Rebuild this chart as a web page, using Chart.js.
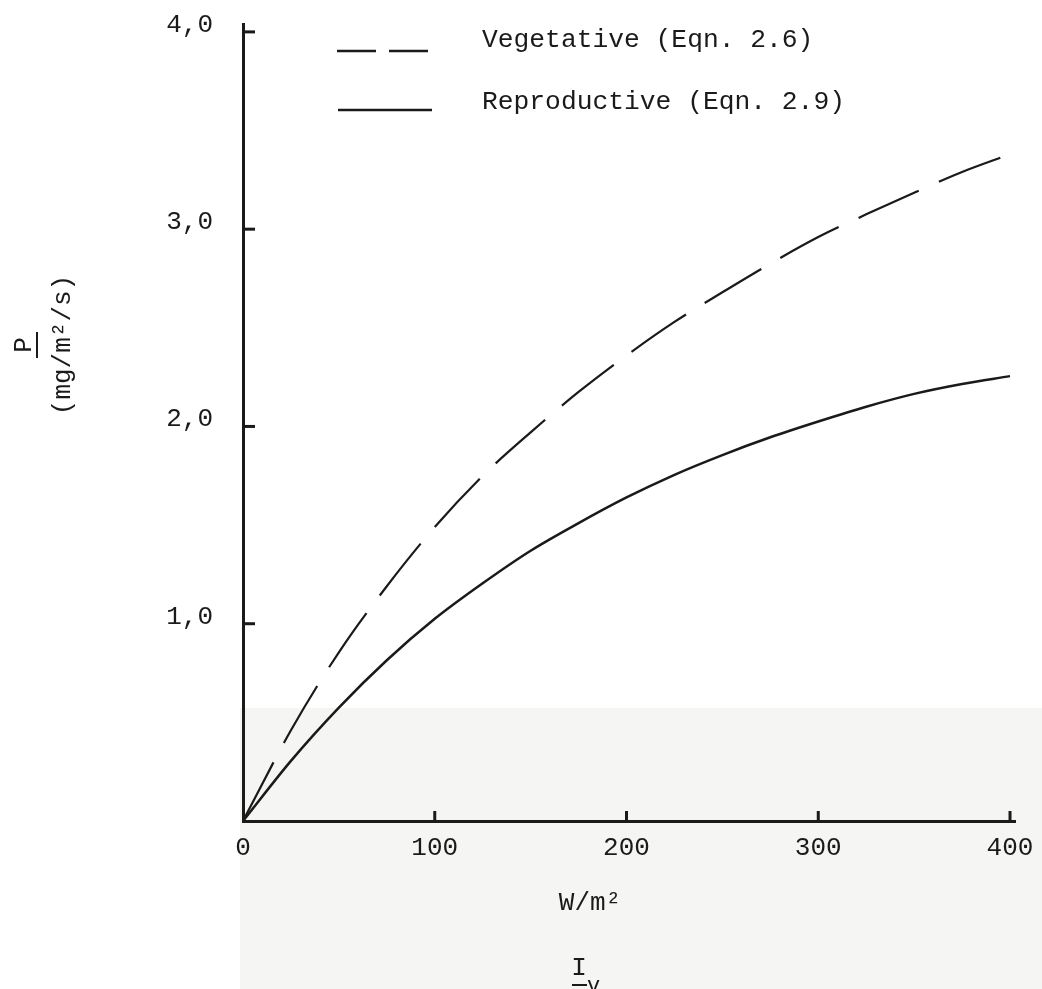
<!DOCTYPE html>
<html lang="en">
  <head>
    <meta charset="UTF-8" />
    <title>P vs I_v</title>
    <script src="https://cdn.jsdelivr.net/npm/chart.js"></script>
    <style>
      html, body {
        margin: 0;
        padding: 0;
        background-color: #fff;
      }
      #wrap {
        width: 1042px;
        height: 989px;
      }
    </style>
  </head>
  <body>
    <div id="wrap">
      <canvas id="pChart" width="1042" height="989"></canvas>
    </div>

    <script>
      // irradiance (W/m2) and photosynthesis rate (mg/m2/s)
      const irradiance = [0, 25, 50, 75, 100, 125, 150, 175, 200, 225, 250, 275, 300, 325, 350, 375, 400];
      const vegetative = [0, 0.46, 0.855, 1.19, 1.49, 1.75, 1.97, 2.175, 2.36, 2.53, 2.68, 2.825, 2.96, 3.075, 3.185, 3.29, 3.38];
      const reproductive = [0, 0.305, 0.575, 0.815, 1.025, 1.205, 1.37, 1.51, 1.64, 1.755, 1.855, 1.945, 2.025, 2.1, 2.165, 2.215, 2.255];

      const seriesNames = ["Vegetative (Eqn. 2.6)", "Reproductive (Eqn. 2.9)"];
      const xTicks = [0, 100, 200, 300, 400];
      const yTicks = [0, 1, 2, 3, 4];

      const FONT = "'Liberation Mono', 'DejaVu Sans Mono', monospace";
      const INK = "#1a1a1a";

      function toPoints(ys) {
        return irradiance.map((x, i) => ({ x: x, y: ys[i] }));
      }

      // paper tone at the lower part of the sheet
      const paperPlugin = {
        id: "paper",
        beforeDraw(chart) {
          const ctx = chart.ctx;
          ctx.save();
          ctx.fillStyle = "#f5f5f3";
          ctx.fillRect(240, 708, chart.width - 240, chart.height - 708);
          ctx.restore();
        },
      };

      // inward tick marks, titles and the line key
      const decorPlugin = {
        id: "decor",
        afterDraw(chart) {
          const ctx = chart.ctx;
          const xs = chart.scales.x;
          const ys = chart.scales.y;
          const area = chart.chartArea;

          ctx.save();
          ctx.strokeStyle = INK;
          ctx.lineWidth = 3;
          yTicks.filter((v) => v > 0).forEach((v) => {
            const py = ys.getPixelForValue(v);
            ctx.beginPath();
            ctx.moveTo(area.left, py);
            ctx.lineTo(area.left + 12, py);
            ctx.stroke();
          });
          xTicks.filter((v) => v > 0).forEach((v) => {
            const px = xs.getPixelForValue(v);
            ctx.beginPath();
            ctx.moveTo(px, area.bottom);
            ctx.lineTo(px, area.bottom - 10);
            ctx.stroke();
          });

          // key
          const ds = chart.data.datasets;
          ctx.lineWidth = 2.5;
          ctx.setLineDash([39, 13]);
          ctx.beginPath();
          ctx.moveTo(337, 51);
          ctx.lineTo(430, 51);
          ctx.stroke();
          ctx.setLineDash([]);
          ctx.beginPath();
          ctx.moveTo(338, 110);
          ctx.lineTo(432, 110);
          ctx.stroke();

          ctx.fillStyle = INK;
          ctx.font = "26.3px " + FONT;
          ctx.textAlign = "left";
          ctx.textBaseline = "middle";
          ctx.fillText(ds[0].label, 482, 40);
          ctx.fillText(ds[1].label, 482, 102);

          // x title
          ctx.font = "26px " + FONT;
          ctx.textAlign = "center";
          ctx.fillText("W/m²", 590, 903);
          ctx.fillText("I", 579, 968);
          ctx.font = "22px " + FONT;
          ctx.textAlign = "left";
          ctx.textBaseline = "top";
          ctx.fillText("v", 587, 975);
          ctx.lineWidth = 2;
          ctx.beginPath();
          ctx.moveTo(572, 985);
          ctx.lineTo(587, 985);
          ctx.stroke();

          // y title
          ctx.translate(0, 345);
          ctx.rotate(-Math.PI / 2);
          ctx.font = "26px " + FONT;
          ctx.textAlign = "center";
          ctx.textBaseline = "middle";
          ctx.fillText("P", 0, 24);
          ctx.fillText("(mg/m²/s)", 0, 63);
          ctx.beginPath();
          ctx.moveTo(-13, 37);
          ctx.lineTo(13, 37);
          ctx.stroke();
          ctx.restore();
        },
      };

      const ctx = document.getElementById("pChart").getContext("2d");
      new Chart(ctx, {
        type: "line",
        data: {
          datasets: [
            {
              label: seriesNames[0],
              data: toPoints(vegetative),
              borderColor: INK,
              borderWidth: 2.2,
              borderDash: [66, 22],
              pointRadius: 0,
              cubicInterpolationMode: "monotone",
            },
            {
              label: seriesNames[1],
              data: toPoints(reproductive),
              borderColor: INK,
              borderWidth: 2.5,
              pointRadius: 0,
              cubicInterpolationMode: "monotone",
            },
          ],
        },
        options: {
          responsive: false,
          animation: false,
          layout: {
            padding: { top: 24, right: 27, left: 0, bottom: 0 },
          },
          plugins: {
            legend: { display: false },
            tooltip: { enabled: false },
          },
          scales: {
            x: {
              type: "linear",
              min: 0,
              max: 402.6,
              afterBuildTicks: (s) => {
                s.ticks = xTicks.map((v) => ({ value: v }));
              },
              afterFit: (s) => {
                s.height = 168;
                s.paddingLeft = 0;
                s.paddingRight = 0;
              },
              grid: { display: false, drawTicks: false },
              border: { display: true, color: INK, width: 3 },
              ticks: {
                color: INK,
                padding: 12,
                maxRotation: 0,
                font: { family: FONT, size: 26 },
                callback: (v) => String(v),
              },
            },
            y: {
              type: "linear",
              min: 0,
              max: 4.04,
              afterBuildTicks: (s) => {
                s.ticks = yTicks.map((v) => ({ value: v }));
              },
              afterFit: (s) => {
                s.width = 243;
                s.paddingTop = 0;
                s.paddingBottom = 0;
              },
              grid: { display: false, drawTicks: false },
              border: { display: true, color: INK, width: 3 },
              ticks: {
                color: INK,
                padding: 30,
                labelOffset: -7,
                font: { family: FONT, size: 26 },
                callback: (v) => (v === 0 ? "" : v.toFixed(1).replace(".", ",")),
              },
            },
          },
        },
        plugins: [paperPlugin, decorPlugin],
      });
    </script>
  </body>
</html>
